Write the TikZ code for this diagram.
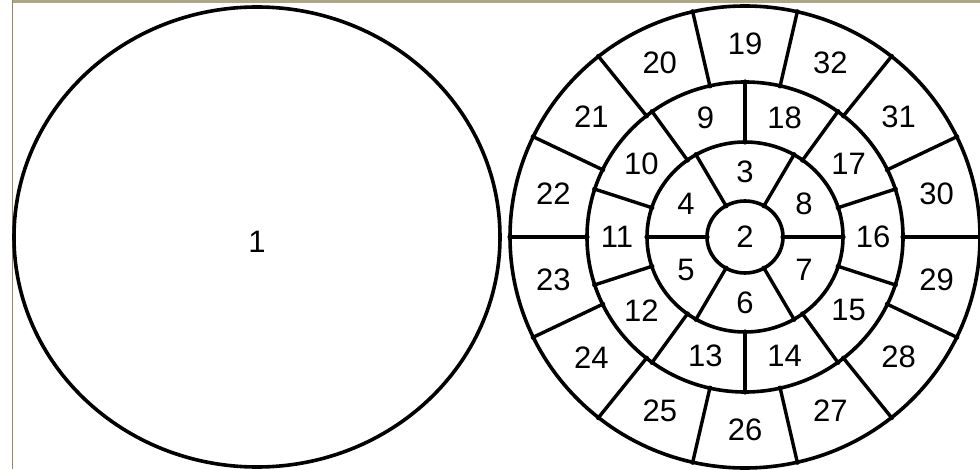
\documentclass[tikz,border=0pt]{standalone}
\usepackage{fontspec}
\setmainfont{Liberation Sans}
\definecolor{framebar}{RGB}{176,164,136}
\definecolor{frameline}{RGB}{150,132,100}
\begin{document}
\begin{tikzpicture}[x=1pt,y=1pt,
  lbl/.style={font=\fontsize{31}{34}\selectfont, inner sep=0pt},
  ring/.style={draw=black, line width=3.6pt},
  divider/.style={draw=black, line width=3.4pt},
  joint/.style={fill=black}]
\useasboundingbox (0,0) rectangle (980,469);
\fill[white] (0,0) rectangle (980,469);
% window frame remnants
\fill[framebar] (12,466) rectangle (980,469);
\draw[line width=1.2pt, frameline] (12.5,0) -- (12.5,469);
% centres
\coordinate (L) at (257,232);
\coordinate (R) at (745,232);
% left disc
\draw[ring] (L) ellipse [x radius=243, y radius=230];
\node[lbl] (n1) at ([yshift=-5]L) {1};
% right target: rings
\draw[ring] (R) ellipse [x radius=38, y radius=36];
\draw[ring] (R) ellipse [x radius=98, y radius=95];
\draw[ring] (R) ellipse [x radius=158, y radius=155];
\draw[ring] (R) ellipse [x radius=235, y radius=231];
% dividers ring 1
\foreach \a in {0,60,...,300}{
  \draw[divider] ([shift={(R)}]\a:38 and 36) -- ([shift={(R)}]\a:98 and 95);
  \fill[joint] ([shift={(R)}]\a:38 and 36) circle (2.6);
  \fill[joint] ([shift={(R)}]\a:98 and 95) circle (2.6);
}
% dividers ring 2
\foreach \i in {0,...,9}{
  \pgfmathsetmacro\a{90+36*\i}
  \draw[divider] ([shift={(R)}]\a:98 and 95) -- ([shift={(R)}]\a:158 and 155);
  \fill[joint] ([shift={(R)}]\a:98 and 95) circle (2.6);
  \fill[joint] ([shift={(R)}]\a:158 and 155) circle (2.6);
}
% dividers ring 3
\foreach \i in {0,...,13}{
  \pgfmathsetmacro\a{102.857143+25.714286*\i}
  \draw[divider] ([shift={(R)}]\a:158 and 155) -- ([shift={(R)}]\a:235 and 231);
  \fill[joint] ([shift={(R)}]\a:158 and 155) circle (2.6);
  \fill[joint] ([shift={(R)}]\a:235 and 231) circle (2.6);
}
% labels
\node[lbl] (n2) at (R) {2};
\foreach \lab/\a in {3/90,8/30,7/-30,6/-90,5/-150,4/150}
  \node[lbl] (n\lab) at ([shift={(R)}]\a:68 and 65.5) {\lab};
\foreach \i in {0,...,9}{
  \pgfmathtruncatemacro\lab{18-\i}
  \pgfmathsetmacro\a{72-36*\i}
  \node[lbl] (n\lab) at ([shift={(R)}]\a:128 and 125) {\lab};
}
\foreach \i in {0,...,13}{
  \pgfmathtruncatemacro\lab{\i==0 ? 19 : 33-\i}
  \pgfmathsetmacro\a{90-25.714286*\i}
  \node[lbl] (n\lab) at ([shift={(R)}]\a:196.5 and 193) {\lab};
}
\end{tikzpicture}
\end{document}
